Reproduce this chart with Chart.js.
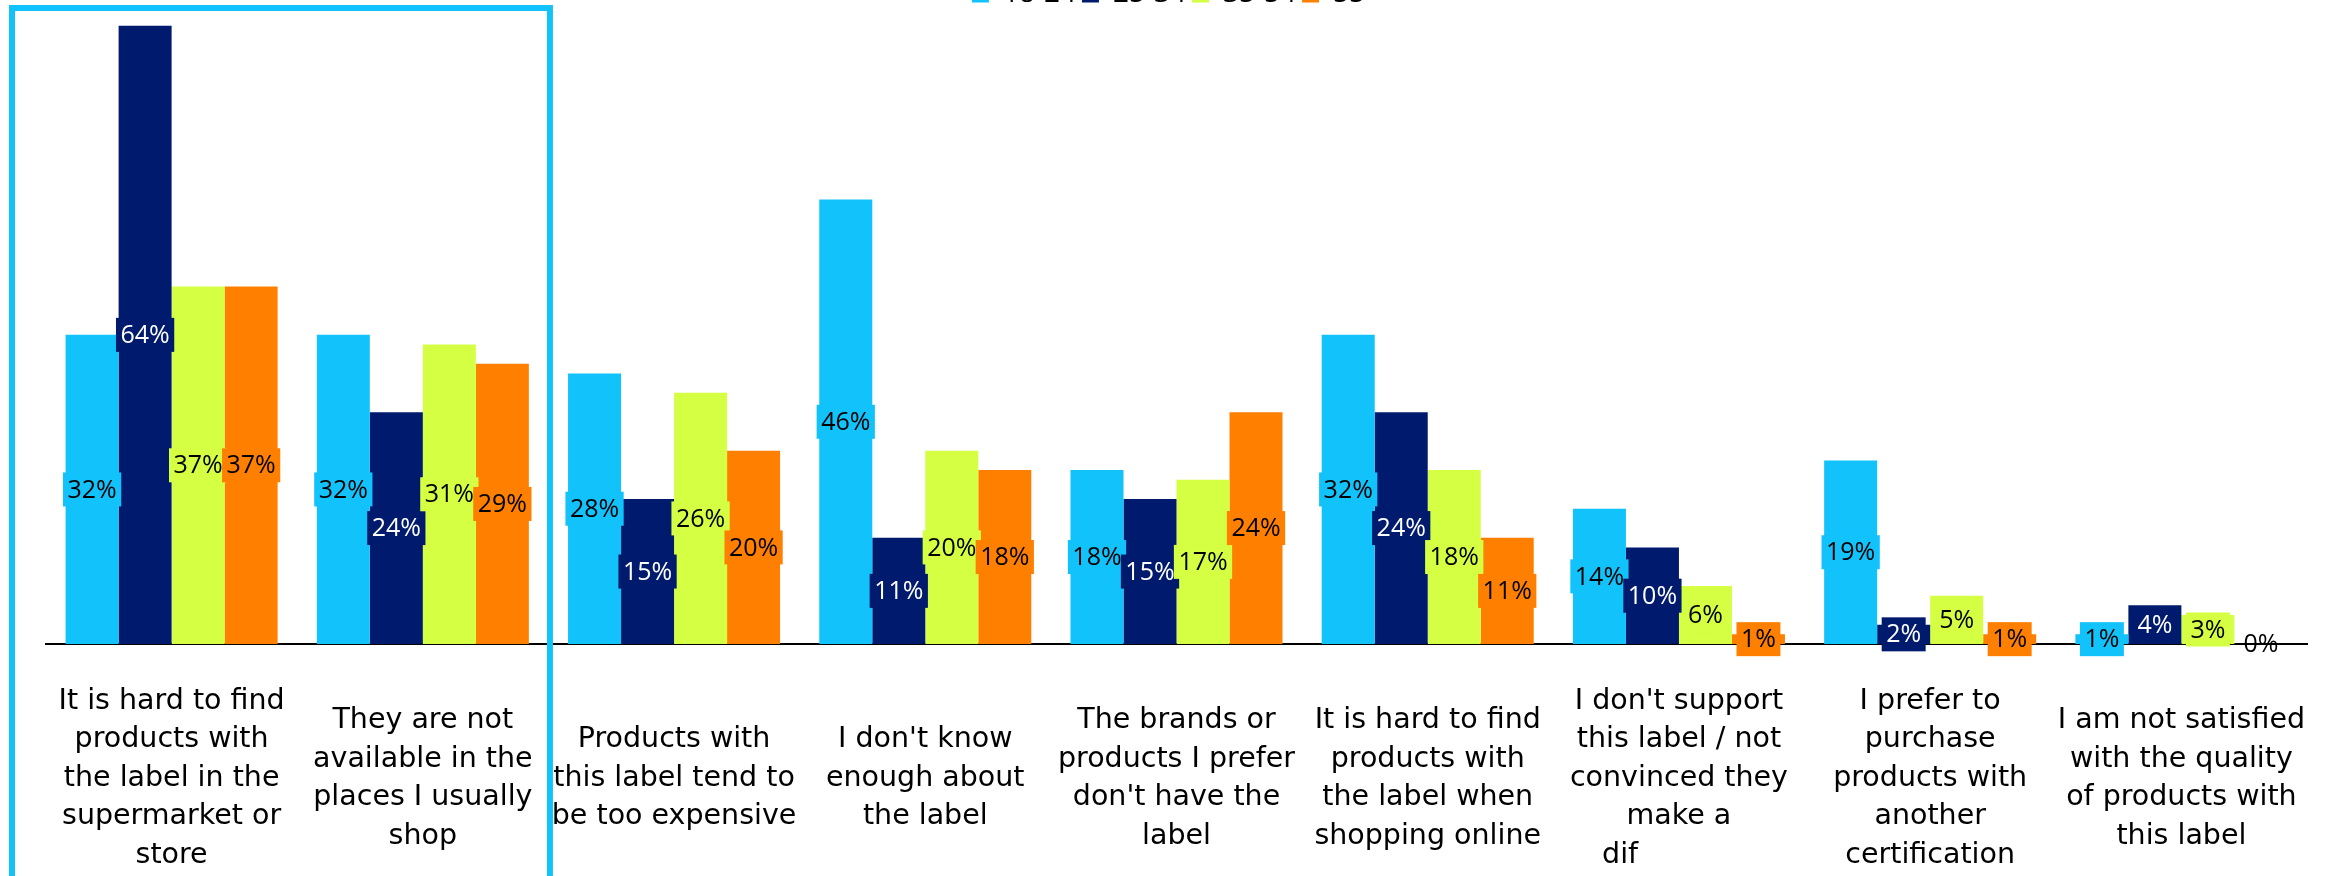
<!DOCTYPE html>
<html>
<head>
<meta charset="utf-8">
<script src="https://cdn.jsdelivr.net/npm/chart.js@4.4.1/dist/chart.umd.min.js"></script>
<style>
  html, body { margin: 0; padding: 0; background: #fff; overflow: hidden; width: 2325px; height: 876px; }
  #wrap { position: absolute; left: 0; top: -26px; width: 2325px; height: 902px; }
</style>
</head>
<body>
<div id="wrap"><canvas id="chart"></canvas></div>
<script>
// Reasons for not buying labelled products, by age group (%)
const categories = [
  ["It is hard to find", "products with", "the label in the", "supermarket or", "store"],
  ["They are not", "available in the", "places I usually", "shop"],
  ["Products with", "this label tend to", "be too expensive"],
  ["I don't know", "enough about", "the label"],
  ["The brands or", "products I prefer", "don't have the", "label"],
  ["It is hard to find", "products with", "the label when", "shopping online"],
  ["I don't support", "this label / not", "convinced they", "make a", "dif\u00A0\u00A0\u00A0\u00A0\u00A0\u00A0\u00A0\u00A0\u00A0\u00A0\u00A0\u00A0\u00A0"],
  ["I prefer to", "purchase", "products with", "another", "certification"],
  ["I am not satisfied", "with the quality", "of products with", "this label"]
];

const seriesNames = ["18-24", "25-34", "35-54", "55+"];

const age18to24 = [32, 32, 28, 46, 18, 32, 14, 19, 1];
const age25to34 = [64, 24, 15, 11, 15, 24, 10, 2, 4];
const age35to54 = [37, 31, 26, 20, 17, 18, 6, 5, 3];
const age55plus = [37, 29, 20, 18, 24, 11, 1, 1, 0];

const seriesValues = [age18to24, age25to34, age35to54, age55plus];
const seriesColors = ["#12C2FB", "#001B6D", "#D4FF43", "#FF8000"];
const tagTextColors = ["#000000", "#ffffff", "#000000", "#000000"];

// Percentage tags on a coloured box, centred in each bar
const valueTags = {
  id: "valueTags",
  afterDatasetsDraw(chart) {
    const ctx = chart.ctx;
    ctx.save();
    ctx.font = '25px "Open Sans"';
    ctx.textAlign = "center";
    ctx.textBaseline = "middle";
    chart.data.datasets.forEach((ds, i) => {
      const meta = chart.getDatasetMeta(i);
      if (meta.hidden) return;
      meta.data.forEach((bar, j) => {
        const v = ds.data[j];
        const text = v + "%";
        const yc = (bar.y + bar.base) / 2;
        const w = ctx.measureText(text).width + 9;
        const h = 34;
        if (v > 0) {
          ctx.fillStyle = ds.backgroundColor;
          ctx.fillRect(bar.x - w / 2, yc - h / 2, w, h);
        }
        ctx.fillStyle = tagTextColors[i];
        ctx.fillText(text, bar.x, yc + 1);
      });
    });
    ctx.restore();
  }
};

// Highlight frame around the first two reasons
const highlightFrame = {
  id: "highlightFrame",
  afterDraw(chart) {
    const ctx = chart.ctx;
    const x = chart.scales.x;
    const area = chart.chartArea;
    const left = area.left - 34;
    const right = (x.getPixelForValue(1) + x.getPixelForValue(2)) / 2 + 1.5;
    const top = area.top - 10;
    ctx.save();
    ctx.strokeStyle = "#12C2FB";
    ctx.lineWidth = 6;
    ctx.strokeRect(left, top, right - left, chart.height + 40 - top);
    ctx.restore();
  }
};

new Chart(document.getElementById("chart"), {
  type: "bar",
  data: {
    labels: categories,
    datasets: seriesNames.map((name, i) => ({
      label: name,
      data: seriesValues[i],
      backgroundColor: seriesColors[i],
      borderWidth: 0,
      barPercentage: 1.0,
      categoryPercentage: 0.844
    }))
  },
  options: {
    responsive: true,
    maintainAspectRatio: false,
    devicePixelRatio: 1,
    animation: false,
    layout: { padding: { left: 46, right: 18, top: 0, bottom: 0 } },
    plugins: {
      legend: {
        display: true,
        position: "top",
        labels: {
          color: "#000",
          font: { family: "Open Sans", size: 28 },
          boxWidth: 17,
          boxHeight: 17,
          padding: 6
        }
      },
      tooltip: { enabled: false }
    },
    scales: {
      x: {
        grid: { display: false },
        border: { display: true, color: "#000", width: 2 },
        ticks: {
          color: "#000",
          font: { family: "DejaVu Sans", size: 28.5, lineHeight: "38.5px" },
          padding: 49.5,
          crossAlign: "center",
          maxRotation: 0,
          minRotation: 0,
          autoSkip: false
        },
        afterFit(scale) {
          scale.paddingLeft = 0;
          scale.paddingRight = 0;
          scale.height = 232;
        }
      },
      y: {
        display: false,
        min: 0,
        max: 64.8
      }
    }
  },
  plugins: [valueTags, highlightFrame]
});
</script>
</body>
</html>
